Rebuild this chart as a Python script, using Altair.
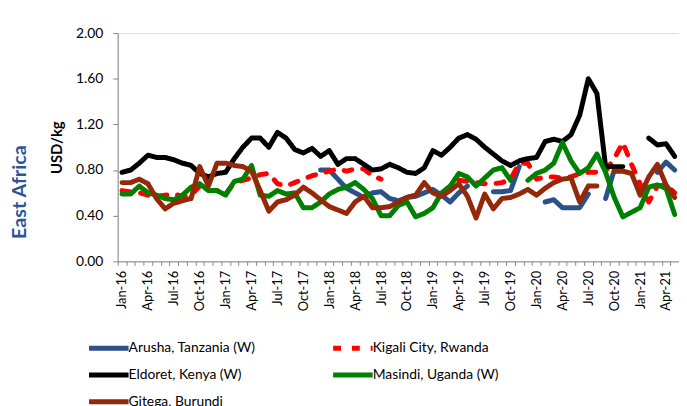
import altair as alt
import pandas as pd

years = ["16", "17", "18", "19", "20", "21"]
mnames = ["Jan", "Feb", "Mar", "Apr", "May", "Jun", "Jul", "Aug", "Sep", "Oct", "Nov", "Dec"]
months = [f"{m}-{y}" for y in years for m in mnames][:65]

series = ["Arusha, Tanzania  (W)", "Kigali City, Rwanda", "Eldoret, Kenya  (W)",
          "Masindi, Uganda  (W)", "Gitega, Burundi"]
colors = ["#2A5189", "#FF0000", "#000000", "#008000", "#96280A"]

N = None
arusha = [N]*23 + [0.80, 0.80, 0.72, 0.64, 0.60, 0.56, 0.60, 0.61, 0.55, 0.53,
                   0.56, 0.57, 0.60, 0.63, 0.58, 0.52, 0.60, 0.66, N, N,
                   0.61, 0.61, 0.62, 0.83, N, N, 0.52, 0.54, 0.47, 0.47,
                   0.47, 0.59, N, 0.55, 0.80, N, N, N, N, 0.78,
                   0.87, 0.80]
kigali = [0.62, 0.61, 0.60, 0.58, 0.57, 0.58, 0.59, 0.57, 0.58, 0.66,
          0.62, 0.62, 0.59, 0.69, 0.71, 0.73, 0.76, 0.77, 0.68, 0.66,
          0.69, 0.72, 0.75, 0.77, 0.79, 0.81, 0.79, 0.81, 0.81, 0.75,
          0.72, N, N, N, N, N, N, N, N, 0.71,
          0.70, 0.69, 0.68, 0.68, 0.69, 0.72, 0.86, 0.86, 0.72, 0.74,
          0.74, 0.73, 0.74, 0.77, 0.78, 0.78, 0.79, 0.90, 1.04, 0.85,
          0.68, 0.52, 0.66, 0.67, 0.60]
eldoret = [0.78, 0.80, 0.86, 0.93, 0.91, 0.91, 0.89, 0.86, 0.84, 0.77,
           0.74, 0.77, 0.78, 0.90, 1.00, 1.08, 1.08, 1.00, 1.13, 1.08,
           0.98, 0.95, 0.99, 0.92, 0.97, 0.85, 0.90, 0.90, 0.85, 0.80,
           0.81, 0.85, 0.82, 0.78, 0.77, 0.82, 0.97, 0.93, 1.00, 1.08,
           1.11, 1.07, 1.00, 0.94, 0.88, 0.84, 0.88, 0.90, 0.91, 1.05,
           1.07, 1.05, 1.11, 1.28, 1.60, 1.47, 0.83, 0.83, 0.83, N,
           N, 1.08, 1.02, 1.03, 0.92]
masindi = [0.59, 0.59, 0.66, 0.60, 0.58, 0.55, 0.54, 0.58, 0.65, 0.68,
           0.62, 0.62, 0.58, 0.70, 0.72, 0.84, 0.58, 0.57, 0.62, 0.59,
           0.60, 0.47, 0.47, 0.52, 0.59, 0.63, 0.65, 0.69, 0.63, 0.55,
           0.40, 0.40, 0.49, 0.52, 0.39, 0.42, 0.47, 0.60, 0.66, 0.77,
           0.74, 0.66, 0.73, 0.80, 0.82, 0.71, N, 0.71, 0.77, 0.80,
           0.86, 1.04, 0.88, 0.77, 0.82, 0.94, 0.78, 0.56, 0.39, 0.43,
           0.47, 0.65, 0.67, 0.64, 0.41]
gitega = [0.69, 0.69, 0.72, 0.68, 0.55, 0.46, 0.51, 0.53, 0.55, 0.83,
          0.66, 0.86, 0.86, 0.84, 0.83, 0.79, 0.62, 0.44, 0.52, 0.54,
          0.58, 0.65, 0.60, 0.54, 0.48, 0.45, 0.42, 0.52, 0.57, 0.47,
          0.47, 0.48, 0.52, 0.56, 0.58, 0.69, 0.60, 0.57, 0.62, 0.68,
          0.57, 0.38, 0.59, 0.46, 0.55, 0.56, 0.59, 0.63, 0.58, 0.64,
          0.69, 0.72, 0.73, 0.52, 0.66, 0.66, N, 0.79, 0.79, 0.77,
          0.58, 0.74, 0.85, 0.67, 0.56]

values = [arusha, kigali, eldoret, masindi, gitega]
rows = []
for s, vals in zip(series, values):
    for m, v in zip(months, vals):
        rows.append({"month": m, "series": s, "price": v})
df = pd.DataFrame(rows)

yticks = [0.0, 0.4, 0.8, 1.2, 1.6, 2.0]
FONT = "Lato"


def make_legend():
    return alt.Legend(title=None, orient="none", legendX=-32, legendY=312,
                      direction="horizontal", columns=2, columnPadding=65, rowPadding=7,
                      symbolType="M-5,0H5", symbolSize=64, symbolStrokeWidth=5,
                      symbolOffset=16, labelOffset=13,
                      labelFont=FONT, labelFontSize=14, labelColor="#000000", padding=0)


lines = alt.Chart(df).mark_line(
    strokeWidth=5, strokeJoin="round", strokeCap="round",
    invalid="break-paths-show-domains"
).encode(
    x=alt.X("month:N", sort=months, scale=alt.Scale(paddingInner=0, paddingOuter=0),
            axis=alt.Axis(title=None, labelAngle=270, tickBand="extent", labelOverlap=False,
                          labelExpr="indexof(['Jan','Apr','Jul','Oct'], substring(datum.value,0,3)) >= 0 ? datum.value : ''",
                          grid=False, domainColor="#868686", tickColor="#868686",
                          tickSize=4, labelFont=FONT, labelFontSize=13, labelColor="#000000",
                          labelPadding=5)),
    y=alt.Y("price:Q", scale=alt.Scale(domain=[0, 2]),
            axis=alt.Axis(values=yticks, format=".2f", grid=False, title="USD/kg",
                          domainColor="#868686", tickColor="#868686", tickSize=5,
                          labelFont=FONT, labelFontSize=14, labelColor="#000000", labelPadding=10,
                          titleFont=FONT, titleFontSize=15, titleFontWeight="bold",
                          titleColor="#000000", titlePadding=11)),
    color=alt.Color("series:N", sort=series,
                    scale=alt.Scale(domain=series, range=colors),
                    legend=make_legend()),
    strokeDash=alt.StrokeDash("series:N", sort=series,
                              scale=alt.Scale(domain=series,
                                              range=[[1, 0], [8, 11], [1, 0], [1, 0], [1, 0]]),
                              legend=make_legend()),
    detail="series:N",
)

label_df = pd.DataFrame({"t": ["East Africa"]})
region = alt.Chart(label_df).mark_text(
    angle=270, align="center", baseline="middle", font=FONT, fontSize=20,
    fontWeight="bold", color="#2F5597"
).encode(text="t:N", x=alt.value(-99), y=alt.value(161))

chart = alt.layer(lines, region).properties(
    width=568, height=231,
    autosize=alt.AutoSizeParams(type="none"),
    padding={"left": 111, "top": 23, "right": 0, "bottom": 144},
).configure_view(stroke=None).configure(background="white")

chart.save("out.html", embed_options={"renderer": "svg", "actions": False})
